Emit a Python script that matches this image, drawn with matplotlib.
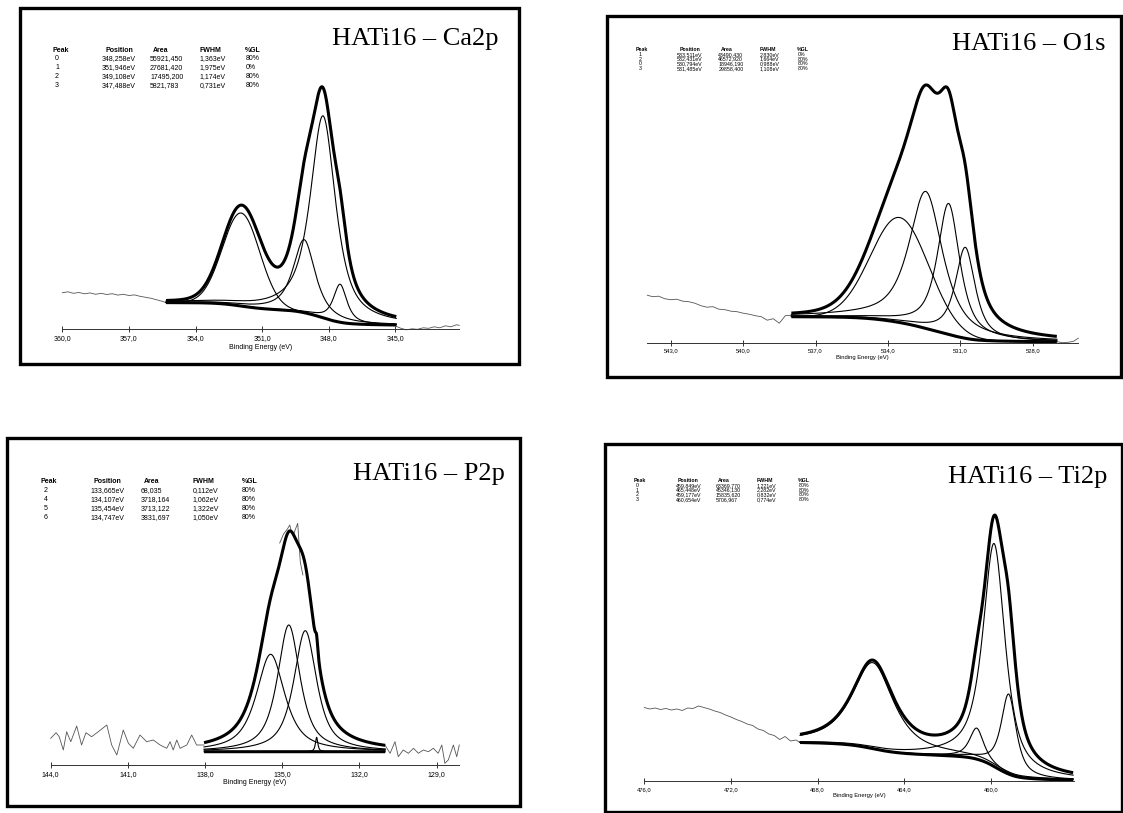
import numpy as np
import matplotlib
matplotlib.use("Agg")
import matplotlib.pyplot as plt
from matplotlib.patches import Rectangle
from matplotlib.ticker import FuncFormatter

plt.rcParams["font.family"] = ["Liberation Sans", "DejaVu Sans"]

W, H = 1123, 813

# ---------------- Ca2p ----------------
ca_ids = [0, 1, 2, 3]
ca_pos = [348.258, 351.946, 349.108, 347.488]
ca_area = [55921.450, 27681.420, 17495.200, 5821.783]
ca_fwhm = [1.363, 1.975, 1.174, 0.731]
ca_gl = [80, 0, 80, 80]
ca_amp = [202, 93, 73, 38]          # peak heights
ca_fit = (355.33, 344.96)
ca_bg = (26.7, 4.3)
ca_raw_l_e = [360.0, 359.75, 359.5, 359.25, 359.0, 358.75, 358.5, 358.25, 358.0, 357.75,
              357.5, 357.25, 357.0, 356.75, 356.5, 356.25, 356.0, 355.75, 355.5, 355.33]
ca_raw_l_i = [36.5, 37.5, 36.0, 36.8, 35.5, 36.4, 35.0, 36.0, 34.8, 35.6,
              34.2, 35.0, 33.8, 34.4, 33.0, 32.0, 31.0, 29.5, 28.0, 26.7]
ca_raw_r_e = [344.96, 344.75, 344.5, 344.25, 344.0, 343.75, 343.5, 343.25, 343.0, 342.75,
              342.5, 342.25, 342.12]
ca_raw_r_i = [3.0, 1.0, -0.5, 0.5, 0.0, 1.5, 1.0, 2.5, 1.5, 3.5, 2.5, 4.5, 4.0]
ca_ticks = [360.0, 357.0, 354.0, 351.0, 348.0, 345.0]

# ---------------- O1s ----------------
o_ids = [1, 2, 0, 3]
o_pos = [533.511, 532.431, 530.794, 531.485]
o_area = [43490.430, 46572.920, 18946.190, 29858.400]
o_fwhm = [2.830, 1.664, 0.988, 1.108]
o_gl = [0, 80, 80, 80]
o_amp = [105, 137, 91, 131]
o_fit = (538.0, 527.0)
o_bg = (26.0, 1.0)
o_raw_l_e = [543.97, 543.75, 543.5, 543.25, 543.0, 542.75, 542.5, 542.25, 542.0, 541.75,
             541.5, 541.25, 541.0, 540.75, 540.5, 540.25, 540.0, 539.75, 539.5, 539.25,
             539.0, 538.75, 538.5, 538.25, 538.0]
o_raw_l_i = [47.5, 46.0, 46.5, 44.0, 43.0, 43.5, 41.5, 41.0, 39.5, 37.0,
             35.5, 36.0, 33.5, 33.0, 31.5, 31.0, 29.5, 28.5, 27.0, 26.0,
             22.5, 24.0, 19.5, 27.0, 27.5]
o_raw_r_e = [527.0, 526.75, 526.5, 526.3, 526.11]
o_raw_r_i = [1.0, 0.0, 0.5, 1.5, 4.5]
o_ticks = [543.0, 540.0, 537.0, 534.0, 531.0, 528.0]

# ---------------- P2p ----------------
p_ids = [2, 4, 5, 6]
p_pos = [133.665, 134.107, 135.454, 134.747]
p_area = [68.035, 3718.164, 3713.122, 3831.697]
p_fwhm = [0.112, 1.062, 1.322, 1.050]
p_gl = [80, 80, 80, 80]
p_amp = [14.4, 121, 97.4, 126.7]
p_fit = (138.04, 131.0)
p_bg = (13.3, 13.3)
p_raw_l_e = [144.0, 143.79, 143.67, 143.51, 143.38, 143.22, 142.99, 142.8, 142.63, 142.41,
             142.15, 141.82, 141.63, 141.43, 141.18, 140.98, 140.79, 140.53, 140.27, 140.01,
             139.75, 139.49, 139.36, 139.24, 139.1, 138.97, 138.71, 138.52, 138.33, 138.04]
p_raw_l_i = [26.7, 32.3, 28.3, 15.0, 33.3, 23.3, 39.0, 20.0, 32.3, 28.3,
             33.3, 40.0, 20.0, 10.0, 35.0, 21.7, 16.7, 30.0, 23.3, 25.0,
             20.0, 16.7, 23.3, 15.0, 25.0, 16.7, 20.0, 30.0, 20.0, 20.0]
p_raw_top_e = [135.1, 134.95, 134.8, 134.71, 134.64, 134.58, 134.5, 134.4, 134.3, 134.2]
p_raw_top_i = [222, 231, 236, 240, 233, 229, 235, 241.7, 203, 190]
p_raw_r_e = [131.01, 130.81, 130.62, 130.49, 130.3, 130.1, 129.9, 129.71, 129.52, 129.32,
             129.13, 128.94, 128.8, 128.68, 128.55, 128.35, 128.22, 128.12]
p_raw_r_i = [20.0, 11.7, 23.3, 8.3, 15.0, 11.7, 16.7, 11.7, 15.0, 13.3,
             16.7, 11.7, 20.0, 1.7, 5.0, 20.0, 8.3, 20.0]
p_ticks = [144.0, 141.0, 138.0, 135.0, 132.0, 129.0]

# ---------------- Ti2p ----------------
t_ids = [0, 1, 2, 3]
t_pos = [459.849, 465.448, 459.177, 460.654]
t_area = [63369.770, 45346.130, 15835.620, 5706.967]
t_fwhm = [1.221, 2.282, 0.832, 0.774]
t_gl = [80, 80, 80, 80]
t_amp = [223, 86, 80, 31]
t_fit = (468.81, 456.2)
t_bg = (38.5, 1.0)
t_raw_l_e = [476.0, 475.75, 475.5, 475.25, 475.0, 474.75, 474.5, 474.25, 474.0, 473.75,
             473.5, 473.25, 473.0, 472.75, 472.5, 472.25, 472.0, 471.75, 471.5, 471.25,
             471.0, 470.75, 470.5, 470.25, 470.0, 469.75, 469.5, 469.25, 469.0, 468.81]
t_raw_l_i = [73.5, 72.0, 73.0, 71.5, 72.5, 71.0, 72.0, 70.5, 73.0, 72.5,
             75.0, 73.5, 72.0, 70.0, 68.5, 66.0, 64.0, 61.5, 59.5, 57.0,
             55.5, 52.0, 50.5, 47.0, 45.5, 41.5, 44.5, 40.0, 41.0, 38.5]
t_ticks = [476.0, 472.0, 468.0, 464.0, 460.0]


def gl_peak(x, e, f, m, a):
    r2 = ((x - e) / f) ** 2
    return a * ((1 - m) * np.exp(-4 * np.log(2) * r2) + m / (1 + 4 * r2))


def fmt_comma(v, nd=3):
    return f"{v:.{nd}f}".replace(".", ",")


def px_axes(fig, left, right, top, bottom):
    return fig.add_axes([left / W, 1 - bottom / H, (right - left) / W, (bottom - top) / H])


def draw_panel(fig, box, ax_box, xlim, ticks, ids, pos, area, fwhm, gl, amp, fit, bg,
               raw, title, title_xy, table, small):
    # frame
    x0, y0, x1, y1 = box
    fig.add_artist(Rectangle((x0 / W, 1 - y1 / H), (x1 - x0) / W, (y1 - y0) / H,
                             transform=fig.transFigure, fill=False, lw=2.4, ec="black"))
    left, right, top, bottom = ax_box
    ax = px_axes(fig, left, right, top, bottom)
    ax.set_xlim(*xlim)
    ax.set_ylim(0, bottom - top)
    for s in ["left", "right", "top"]:
        ax.spines[s].set_visible(False)
    ax.spines["bottom"].set_linewidth(0.7)
    ax.spines["bottom"].set_color("#333333")
    ax.set_yticks([])
    ax.set_xticks(ticks)
    fs = 4.2 if small else 5
    ax.tick_params(axis="x", direction="inout", length=4.5, width=0.7, pad=2,
                   labelsize=fs, color="#333333")
    ax.xaxis.set_major_formatter(FuncFormatter(lambda v, p: fmt_comma(v, 1)))
    ax.set_xlabel("Binding Energy (eV)", fontsize=fs, labelpad=1)
    ax.patch.set_alpha(0)

    # fit model from the peak table
    x = np.linspace(fit[0], fit[1], 3000)
    comps = [gl_peak(x, e, f, m / 100, a) for e, f, m, a in zip(pos, fwhm, gl, amp)]
    tot = np.sum(comps, axis=0)
    cum = np.cumsum(tot[::-1])[::-1]
    back = bg[1] + (bg[0] - bg[1]) * cum / cum[0]

    for re, ri in raw:
        ax.plot(re, ri, color="#555555", lw=0.6, clip_on=False, zorder=1)
    for c in comps:
        ax.plot(x, back + c, color="black", lw=0.8, zorder=2)
    ax.plot(x, back, color="black", lw=2.2, solid_capstyle="butt", zorder=3)
    ax.plot(x, back + tot, color="black", lw=2.2, solid_capstyle="butt", zorder=3)

    # title
    fig.text(title_xy[0] / W, 1 - title_xy[1] / H, title, fontsize=19,
             family="Liberation Serif", va="baseline", ha="left")

    # peak table
    cols_h, cols_v, y_head, y_row, dy, tfs = table
    heads = ["Peak", "Position", "Area", "FWHM", "%GL"]
    for cx, hname in zip(cols_h, heads):
        fig.text(cx / W, 1 - y_head / H, hname, fontsize=tfs, weight="bold", va="center")
    for k in range(len(ids)):
        yy = 1 - (y_row + k * dy) / H
        vals = [str(ids[k]), fmt_comma(pos[k]) + "eV", fmt_comma(area[k]),
                fmt_comma(fwhm[k]) + "eV", f"{gl[k]}%"]
        for cx, v in zip(cols_v, vals):
            fig.text(cx / W, yy, v, fontsize=tfs, va="center")
    return ax


fig = plt.figure(figsize=(W / 100, H / 100), dpi=100)

draw_panel(fig, (20, 8.5, 518.5, 364.5), (62.3, 459.3, 20, 329.3), (360.0, 342.12), ca_ticks,
           ca_ids, ca_pos, ca_area, ca_fwhm, ca_gl, ca_amp, ca_fit, ca_bg,
           [(ca_raw_l_e, ca_raw_l_i), (ca_raw_r_e, ca_raw_r_i)],
           "HATi16 – Ca2p", (331.7, 45),
           ([52.7, 105, 152.7, 199.3, 245.3], [55, 101.7, 150, 199.3, 245.3], 50, 59, 8.9, 5),
           small=False)

draw_panel(fig, (607, 16, 1121, 377), (647.3, 1078.3, 30, 342.7), (543.97, 526.11), o_ticks,
           o_ids, o_pos, o_area, o_fwhm, o_gl, o_amp, o_fit, o_bg,
           [(o_raw_l_e, o_raw_l_i), (o_raw_r_e, o_raw_r_i)],
           "HATi16 – O1s", (951.7, 50),
           ([636, 680, 721, 760, 797.3], [638.3, 676.7, 718.3, 760, 797.3], 49.5, 54.5, 4.6, 3.8),
           small=True)

draw_panel(fig, (7, 438, 519.5, 806), (50.7, 459.3, 450, 765), (144.0, 128.12), p_ticks,
           p_ids, p_pos, p_area, p_fwhm, p_gl, p_amp, p_fit, p_bg,
           [(p_raw_l_e, p_raw_l_i), (p_raw_top_e, p_raw_top_i), (p_raw_r_e, p_raw_r_i)],
           "HATi16 – P2p", (353, 480),
           ([40.7, 94, 144, 192.3, 241.7], [44, 90.7, 141, 192.3, 241.7], 481.7, 490.7, 8.8, 5),
           small=False)

draw_panel(fig, (605, 444, 1122, 812), (644.3, 1074, 455, 781), (476.0, 456.16), t_ticks,
           t_ids, t_pos, t_area, t_fwhm, t_gl, t_amp, t_fit, t_bg,
           [(t_raw_l_e, t_raw_l_i)],
           "HATi16 – Ti2p", (948, 483),
           ([634, 677.7, 718.3, 756.7, 798.3], [635.7, 676, 716, 756.7, 798.3], 480.7, 485.3, 4.7, 3.8),
           small=True)

fig.savefig("out.png", dpi=100)
